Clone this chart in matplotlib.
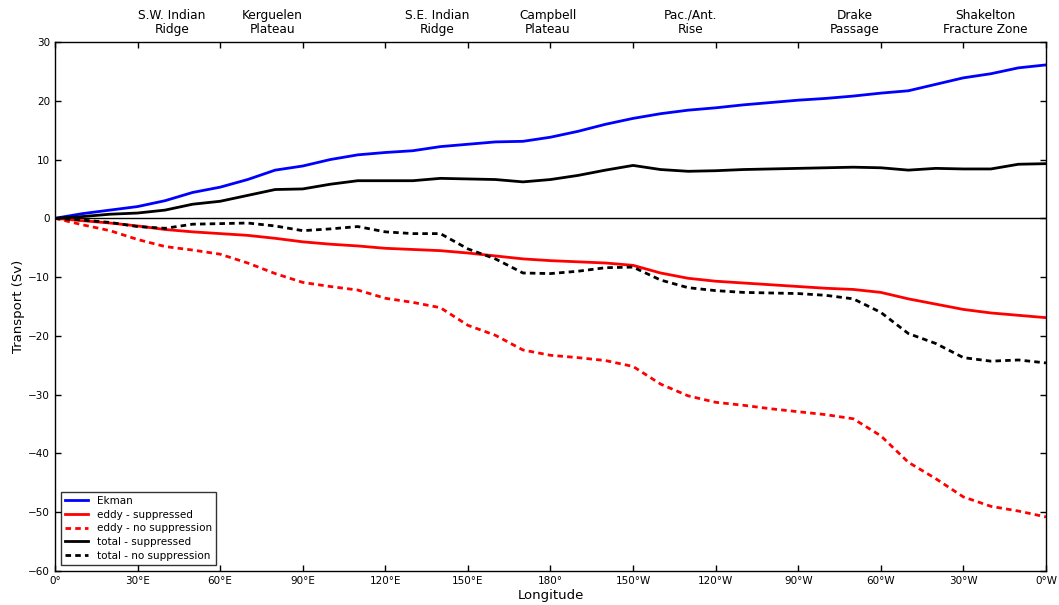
import numpy as np
import matplotlib
matplotlib.use("Agg")
import matplotlib.pyplot as plt
import matplotlib.transforms as mtransforms

# longitude (degrees east of 0, running 0..360)
lon = [0, 10, 20, 30, 40, 50, 60, 70, 80, 90, 100, 110, 120, 130, 140, 150, 160, 170, 180,
       190, 200, 210, 220, 230, 240, 250, 260, 270, 280, 290, 300, 310, 320, 330, 340, 350, 360]

ekman = [0, 0.8, 1.4, 2.0, 3.0, 4.4, 5.3, 6.6, 8.2, 8.9, 10.0, 10.8, 11.2, 11.5, 12.2, 12.6, 13.0, 13.1, 13.8,
         14.8, 16.0, 17.0, 17.8, 18.4, 18.8, 19.3, 19.7, 20.1, 20.4, 20.8, 21.3, 21.7, 22.8, 23.9, 24.6, 25.6, 26.1]

eddy_supp = [0, -0.4, -0.8, -1.3, -1.9, -2.3, -2.6, -2.9, -3.4, -4.0, -4.4, -4.7, -5.1, -5.3, -5.5, -5.9, -6.4, -6.9, -7.2,
             -7.4, -7.6, -8.0, -9.3, -10.2, -10.7, -11.0, -11.3, -11.6, -11.9, -12.1, -12.6, -13.7, -14.6, -15.5, -16.1, -16.5, -16.9]

eddy_nosupp = [0, -1.1, -2.1, -3.6, -4.8, -5.4, -6.1, -7.6, -9.4, -10.9, -11.6, -12.2, -13.6, -14.3, -15.2, -18.2, -19.9, -22.4, -23.3,
               -23.7, -24.2, -25.2, -28.2, -30.2, -31.3, -31.8, -32.4, -32.9, -33.4, -34.1, -37.0, -41.5, -44.3, -47.4, -49.0, -49.8, -50.8]

total_supp = [0, 0.3, 0.7, 0.9, 1.4, 2.4, 2.9, 3.9, 4.9, 5.0, 5.8, 6.4, 6.4, 6.4, 6.8, 6.7, 6.6, 6.2, 6.6,
              7.3, 8.2, 9.0, 8.3, 8.0, 8.1, 8.3, 8.4, 8.5, 8.6, 8.7, 8.6, 8.2, 8.5, 8.4, 8.4, 9.2, 9.3]

total_nosupp = [0, -0.3, -0.7, -1.4, -1.7, -1.0, -0.9, -0.8, -1.3, -2.1, -1.8, -1.4, -2.3, -2.6, -2.6, -5.2, -6.9, -9.3, -9.4,
                -9.0, -8.4, -8.3, -10.5, -11.8, -12.3, -12.6, -12.7, -12.8, -13.1, -13.7, -16.0, -19.6, -21.3, -23.7, -24.3, -24.1, -24.6]

tick_pos = [0, 30, 60, 90, 120, 150, 180, 210, 240, 270, 300, 330, 360]
tick_lab = ['0°', '30°E', '60°E', '90°E', '120°E', '150°E', '180°',
            '150°W', '120°W', '90°W', '60°W', '30°W', '0°W']

feat_pos = [42.5, 79, 139, 179, 231, 290.5, 338]
feat_lab = ['S.W. Indian\nRidge', 'Kerguelen\nPlateau', 'S.E. Indian\nRidge', 'Campbell\nPlateau',
            'Pac./Ant.\nRise', 'Drake\nPassage', 'Shakelton\nFracture Zone']

plt.rcParams['xtick.direction'] = 'in'
plt.rcParams['ytick.direction'] = 'in'

fig = plt.figure(figsize=(10.59, 6.05), dpi=100)
ax = fig.add_axes([0.0519, 0.0562, 0.9358, 0.8744])

ax.axhline(0, color='k', lw=1)
ax.plot(lon, ekman, color='blue', lw=2, label='Ekman')
ax.plot(lon, eddy_supp, color='red', lw=2, label='eddy - suppressed')
ax.plot(lon, eddy_nosupp, color='red', lw=2, dashes=(2, 1.5), label='eddy - no suppression')
ax.plot(lon, total_supp, color='black', lw=2, label='total - suppressed')
ax.plot(lon, total_nosupp, color='black', lw=2, dashes=(2, 1.5), label='total - no suppression')

ax.set_xlim(0, 360)
ax.set_ylim(-60, 30)
ax.set_xticks(tick_pos)
ax.set_xticklabels(tick_lab, fontsize=7.5)
ax.set_yticks(range(-60, 31, 10))
ax.tick_params(axis='y', labelsize=7.5)
ax.tick_params(top=True, right=True, length=4, width=1)
for s in ax.spines.values():
    s.set_linewidth(1)

ax.set_xlabel('Longitude', fontsize=9.5, labelpad=2)
ax.set_ylabel('Transport (Sv)', fontsize=9.5, labelpad=2)

trans = mtransforms.blended_transform_factory(ax.transData, ax.transAxes)
for p, t in zip(feat_pos, feat_lab):
    ax.text(p, 1.012, t, transform=trans, ha='center', va='bottom', fontsize=8.7, linespacing=1.1)

leg = ax.legend(loc='lower left', fontsize=7.5, frameon=True, fancybox=False,
                handlelength=2.2, borderaxespad=0.6, labelspacing=0.35)
leg.get_frame().set_edgecolor('black')
leg.get_frame().set_linewidth(1)

fig.savefig('out.png', dpi=100, facecolor='white')
